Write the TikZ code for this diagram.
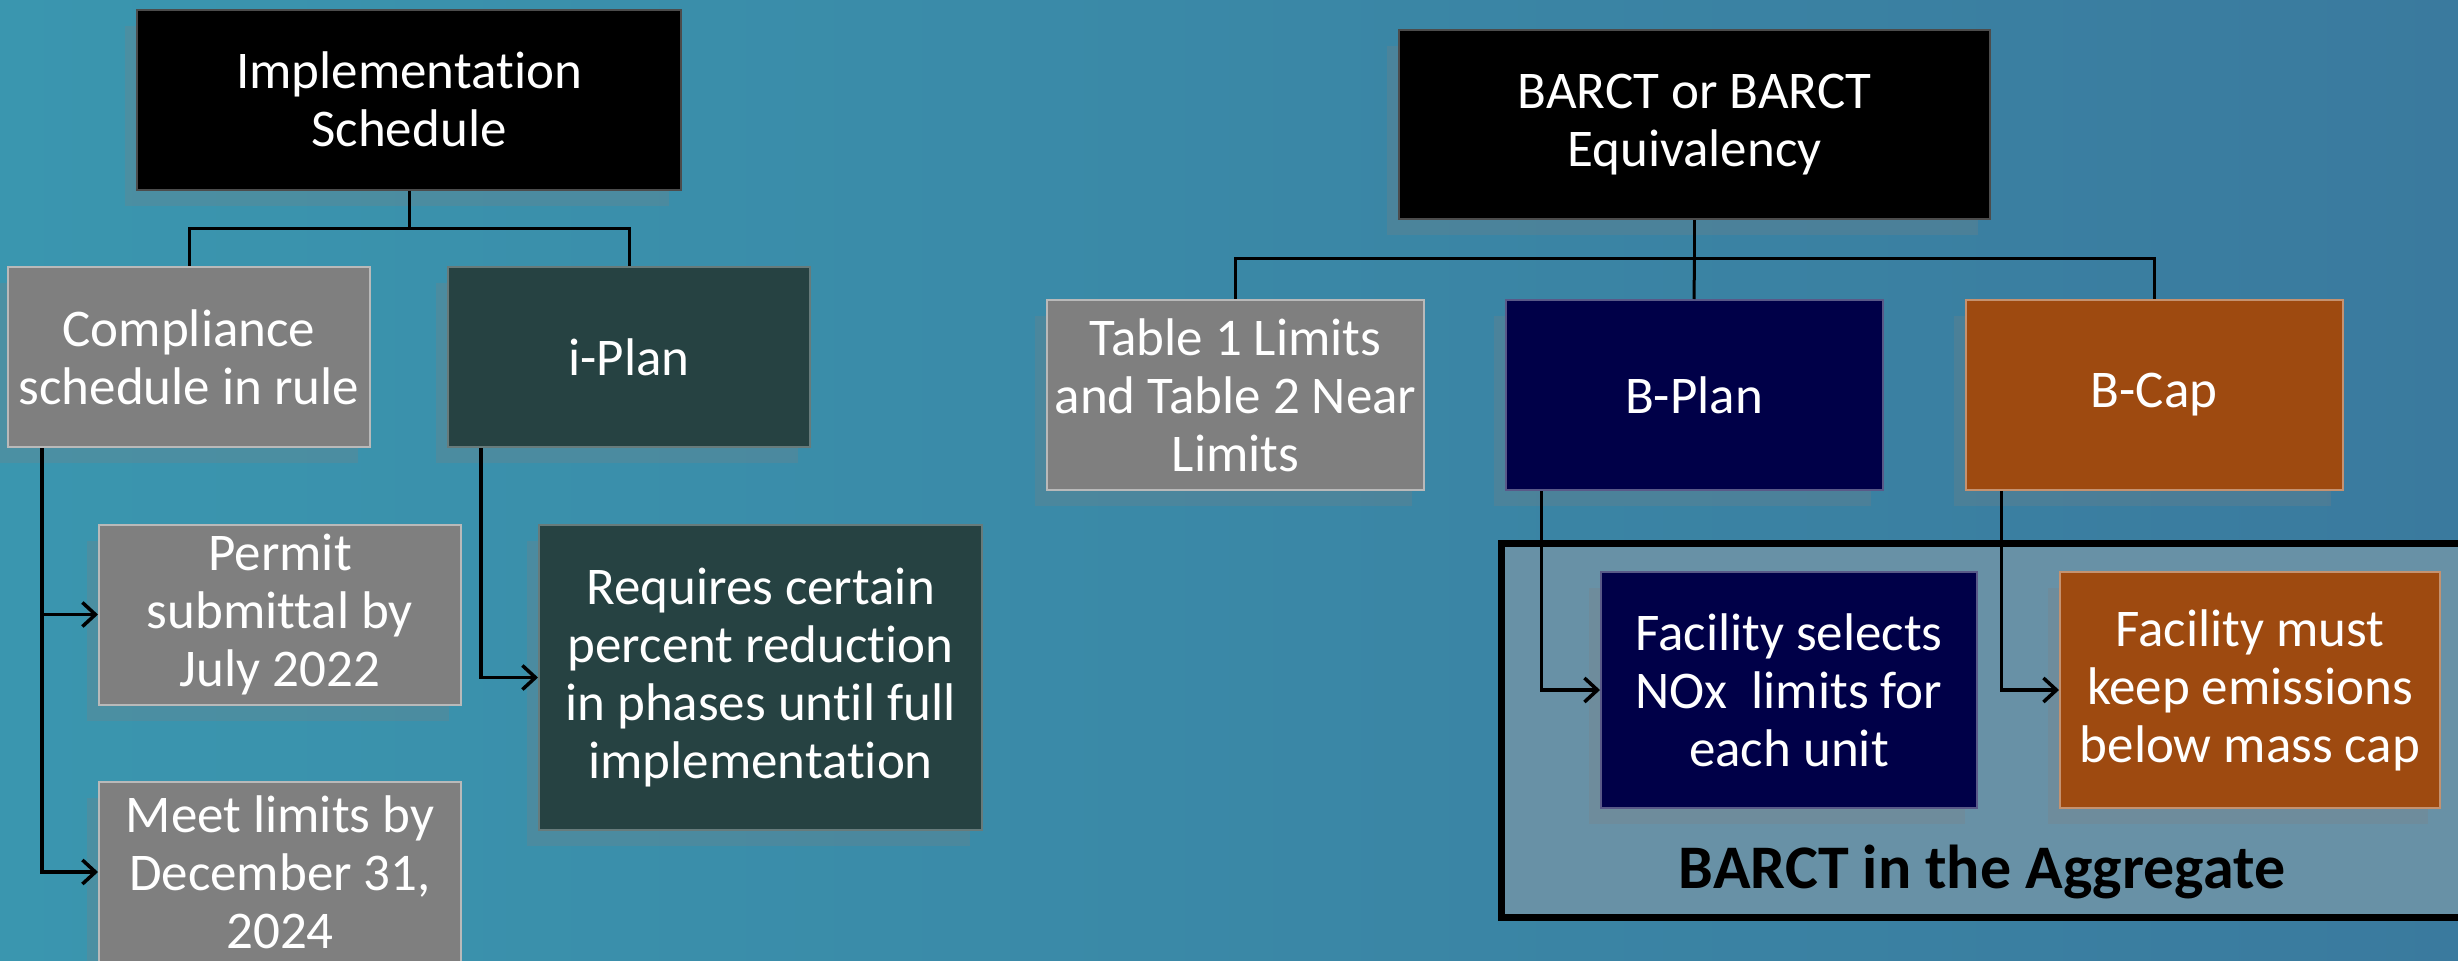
\documentclass[tikz,border=0pt]{standalone}
\usepackage{fontspec}
\setmainfont{Carlito}[Ligatures=NoCommon]
\usetikzlibrary{arrows.meta,shadows}

\definecolor{bgleft}{RGB}{58,150,175}
\definecolor{bgright}{RGB}{58,122,158}
\definecolor{boxgray}{RGB}{127,127,127}
\definecolor{boxgreen}{RGB}{38,66,66}
\definecolor{boxnavy}{RGB}{0,0,72}
\definecolor{boxorange}{RGB}{158,74,16}
\definecolor{aggfill}{RGB}{104,145,166}

\begin{document}
\begin{tikzpicture}[x=1pt,y=-1pt]

    \tikzset{boxstyle/.style={draw,line width=2pt,align=center,text=white,inner sep=0pt,
        font=\fontsize{53}{58}\selectfont,minimum width=362pt,minimum height=180pt,
        drop shadow={shadow xshift=-12pt,shadow yshift=-16pt,opacity=0.25}}}
    \tikzset{blackbox/.style={boxstyle,fill=black,draw=black!70!white}}
    \tikzset{graybox/.style={boxstyle,fill=boxgray,draw=boxgray!55!white}}
    \tikzset{greenbox/.style={boxstyle,fill=boxgreen,draw=boxgreen!70!white}}
    \tikzset{navybox/.style={boxstyle,fill=boxnavy,draw=boxnavy!65!white}}
    \tikzset{orangebox/.style={boxstyle,fill=boxorange,draw=boxorange!60!white}}

    \useasboundingbox (0,0) rectangle (2458,961);
    \fill[left color=bgleft,right color=bgright] (0,0) rectangle (2458,961);

    % aggregate frame
    \node[draw,line width=7pt,fill=aggfill,minimum width=974pt,minimum height=374pt] (agg) at (1988,730) {};
    \node[font=\fontsize{62}{70}\selectfont\bfseries] (aggt) at (1982,872) {BARCT in the Aggregate};

    % left tree
    \node[blackbox,minimum width=544pt] (is) at (409,99.5) {Implementation\\Schedule};
    \node[graybox] (cs) at (189,357) {Compliance\\schedule in rule};
    \node[greenbox] (ip) at (629,357) {i-Plan};
    \node[graybox] (ps) at (280,614.5) {Permit\\submittal by\\July 2022};
    \node[graybox] (ml) at (280,872) {Meet limits by\\December 31,\\2024};
    \node[greenbox,minimum width=443pt,minimum height=305pt] (rq) at (760.5,677.5) {Requires certain\\percent reduction\\in phases until full\\implementation};
    \coordinate (j1) at (409,228);

    % right tree
    \node[blackbox,minimum width=591pt,minimum height=189pt] (bb) at (1694.5,124.5) {BARCT or BARCT\\Equivalency};
    \node[graybox,minimum width=377pt,minimum height=190pt] (t1) at (1235.5,395) {Table 1 Limits\\and Table 2 Near\\Limits};
    \node[navybox,minimum width=377pt,minimum height=190pt] (bp) at (1694,395) {B-Plan};
    \node[orangebox,minimum width=377pt,minimum height=190pt] (bc) at (2154,395) {B-Cap};
    \node[navybox,minimum width=376pt,minimum height=236pt] (fs) at (1789,690) {Facility selects\\NOx\ \ limits for\\each unit};
    \node[orangebox,minimum width=380pt,minimum height=236pt] (fm) at (2250,690) {Facility must\\keep emissions\\below mass cap};
    \coordinate (j2) at (1694.5,258);

    \begin{scope}[every path/.style={draw,line width=3pt}]
        \draw (is.south) -- (j1) -| (cs.north);
        \draw (j1) -| (ip.north);
        \draw (bb.south) -- (j2) -| (t1.north);
        \draw (j2) -| (bc.north);
        \draw (j2) -- (bp.north);
    \end{scope}

    \begin{scope}[every path/.style={-{Straight Barb[length=13pt,width=24pt]},line width=3.5pt}]
        \draw ([xshift=35pt]cs.south west) |- (ps.west);
        \draw ([xshift=35pt]cs.south west) |- (ml.west);
        \draw ([xshift=34pt]ip.south west) |- (rq.west);
        \draw ([xshift=37pt]bp.south west) |- (fs.west);
        \draw ([xshift=37pt]bc.south west) |- (fm.west);
    \end{scope}
\end{tikzpicture}
\end{document}
